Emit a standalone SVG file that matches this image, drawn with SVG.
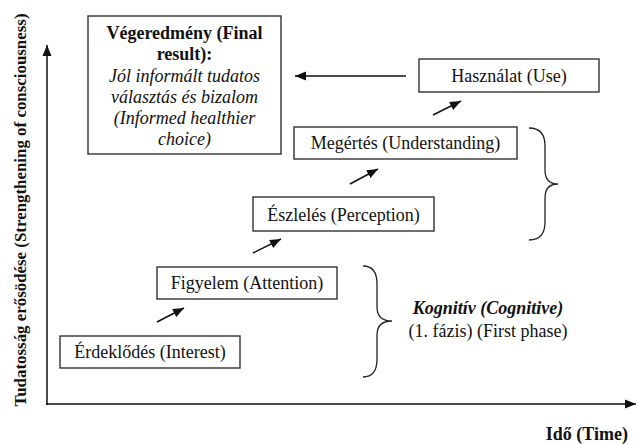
<svg xmlns="http://www.w3.org/2000/svg" width="637" height="444" viewBox="0 0 637 444">
<defs>
<marker id="ah" markerUnits="userSpaceOnUse" markerWidth="12" markerHeight="10" refX="11" refY="5" orient="auto">
<path d="M0,0.5 L11,5 L0,9.5 Z" fill="#111"/>
</marker>
</defs>
<style>
.box{fill:#fff;stroke:#333;stroke-width:1.4}
.t{font-family:"Liberation Serif","Times New Roman",serif;font-size:18px;fill:#111;text-anchor:middle}
.b{font-weight:bold}
.i{font-style:italic}
.ln{stroke:#111;stroke-width:1.5;fill:none}
.br{stroke:#222;stroke-width:1.3;fill:none}
</style>
<rect width="637" height="444" fill="#fff"/>
<g id="axes">
<line class="ln" x1="47" y1="405" x2="47" y2="45" marker-end="url(#ah)"/>
<line class="ln" x1="46" y1="404" x2="636" y2="404" marker-end="url(#ah)"/>
<text class="t b" transform="translate(26,210) rotate(-90)" textLength="393" lengthAdjust="spacingAndGlyphs" style="font-size:17px">Tudatosság erősödése (Strengthening of consciousness)</text>
<text class="t b" x="628" y="440" style="text-anchor:end">Idő (Time)</text>
</g>
<g id="final">
<rect class="box" x="88" y="16" width="193" height="138"/>
<text class="t b" x="184.5" y="39">Végeredmény (Final</text>
<text class="t b" x="184.5" y="60">result):</text>
<text class="t i" x="184.5" y="82">Jól informált tudatos</text>
<text class="t i" x="184.5" y="103">választás és bizalom</text>
<text class="t i" x="184.5" y="124">(Informed healthier</text>
<text class="t i" x="184.5" y="145">choice)</text>
</g>
<g id="use">
<rect class="box" x="419" y="59" width="180" height="33"/>
<text class="t" x="509" y="82">Használat (Use)</text>
</g>
<g id="understanding">
<rect class="box" x="294" y="127" width="223" height="32"/>
<text class="t" x="405.5" y="149">Megértés (Understanding)</text>
</g>
<g id="perception">
<rect class="box" x="253" y="197" width="181" height="34"/>
<text class="t" x="343.5" y="221">Észlelés (Perception)</text>
</g>
<g id="attention">
<rect class="box" x="157" y="267" width="180" height="32"/>
<text class="t" x="247" y="289">Figyelem (Attention)</text>
</g>
<g id="interest">
<rect class="box" x="60" y="336" width="180" height="32"/>
<text class="t" x="150" y="358">Érdeklődés (Interest)</text>
</g>
<g id="phase">
<path class="br" d="M529,128 Q545,128 545,146 L545,170 Q545,184 558,184 Q545,184 545,198 L545,222 Q545,240 529,240"/>
<path class="br" d="M363,266 Q377,266 377,284 L377,307 Q377,321 392,321 Q377,321 377,335 L377,359 Q377,377 363,377"/>
<text class="t b i" x="488" y="314">Kognitív (Cognitive)</text>
<text class="t" x="488" y="337">(1. fázis) (First phase)</text>
</g>
<g id="connectors">
<line class="ln" x1="406" y1="76" x2="295" y2="76" marker-end="url(#ah)"/>
<line class="ln" x1="433" y1="115" x2="461" y2="101" marker-end="url(#ah)"/>
<line class="ln" x1="350" y1="184" x2="378" y2="169" marker-end="url(#ah)"/>
<line class="ln" x1="253" y1="253" x2="281" y2="239" marker-end="url(#ah)"/>
<line class="ln" x1="157" y1="322" x2="184" y2="308" marker-end="url(#ah)"/>
</g>
</svg>
